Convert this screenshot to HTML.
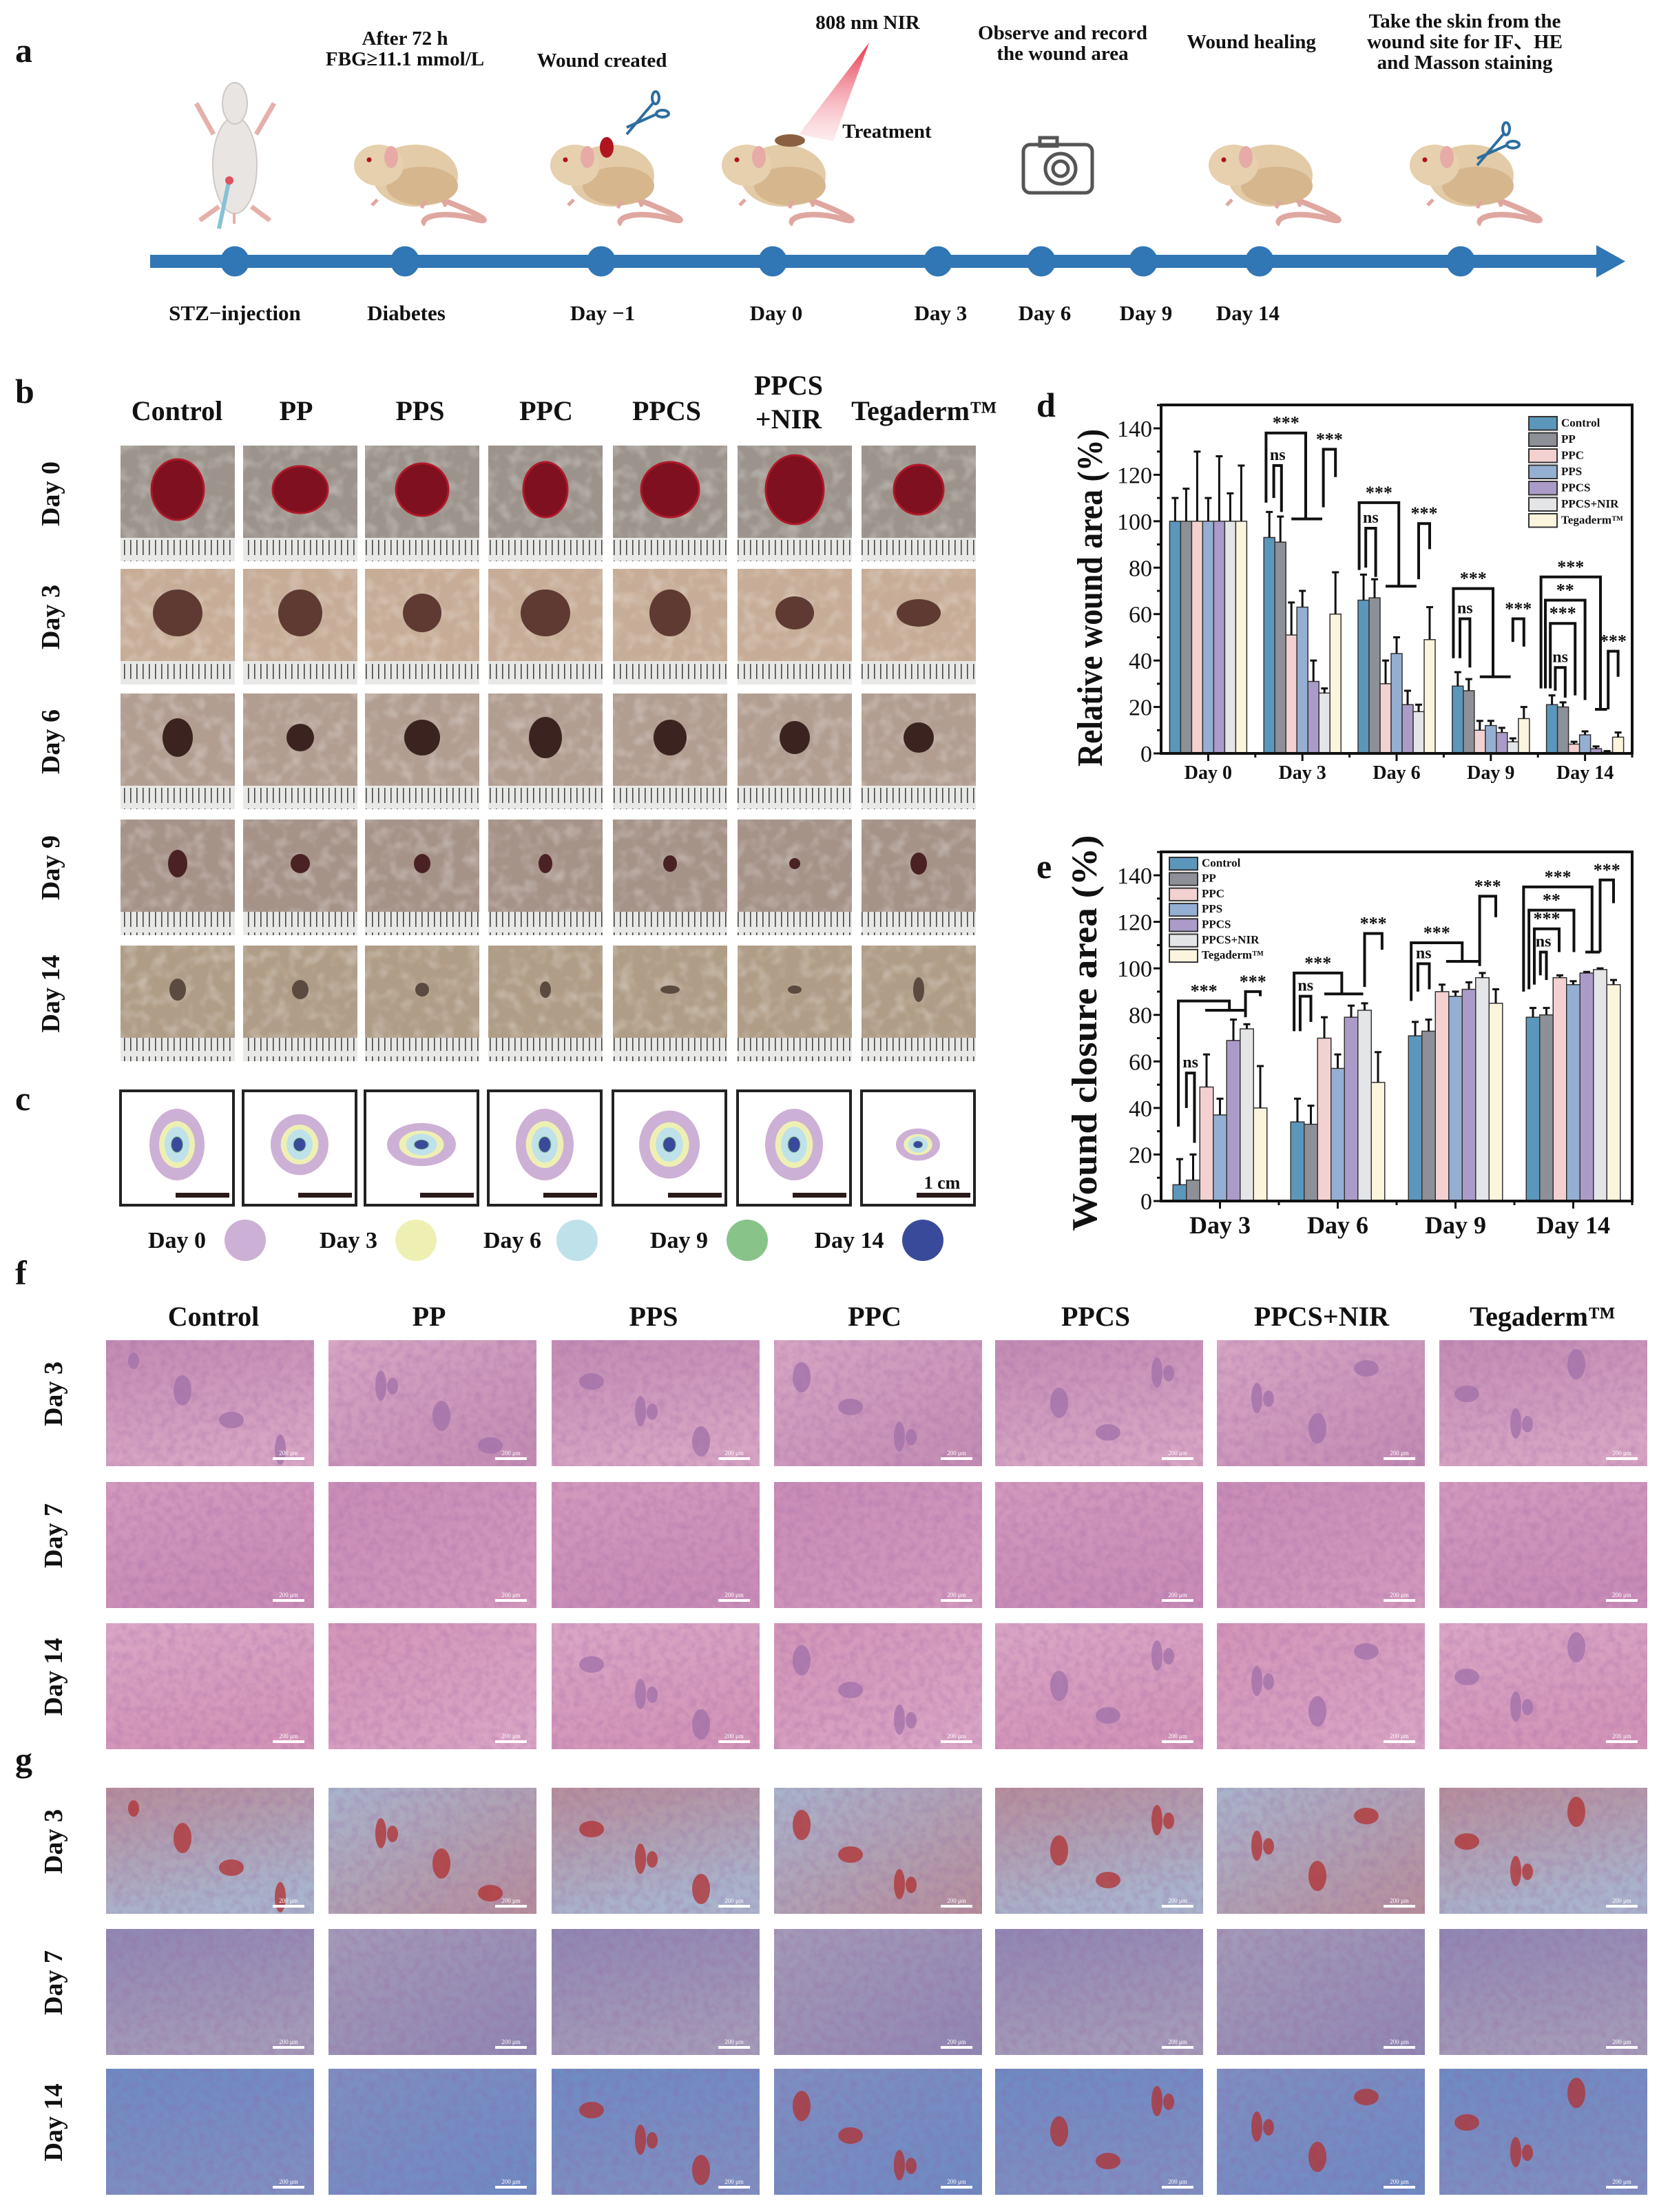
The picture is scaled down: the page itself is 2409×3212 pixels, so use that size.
<!DOCTYPE html>
<html><head><meta charset="utf-8">
<style>
html,body{margin:0;padding:0;background:#fff}
svg{display:block}
text{font-family:"Liberation Serif",serif}
</style></head>
<body>
<svg id="fig" xmlns="http://www.w3.org/2000/svg" width="2409" height="3212" viewBox="0 0 2409 3212">
<defs>
<pattern id="ruler" width="9" height="30" patternUnits="userSpaceOnUse"><rect width="9" height="30" fill="#e8e8e6"/><rect x="0" y="4" width="1.6" height="22" fill="#444"/></pattern>
<linearGradient id="beam" x1="0" y1="0" x2="0" y2="1"><stop offset="0" stop-color="#e8324a"/><stop offset="1" stop-color="#f7c2c8" stop-opacity="0.3"/></linearGradient>
<filter id="noise" x="0" y="0" width="100%" height="100%"><feTurbulence type="fractalNoise" baseFrequency="0.09" numOctaves="2" seed="3"/><feColorMatrix type="matrix" values="0 0 0 0 0.3  0 0 0 0 0.1  0 0 0 0 0.35  0 0 0 -1.4 0.9"/></filter>
<filter id="noise2" x="0" y="0" width="100%" height="100%"><feTurbulence type="fractalNoise" baseFrequency="0.05" numOctaves="2" seed="8"/><feColorMatrix type="matrix" values="0 0 0 0 0.95  0 0 0 0 0.95  0 0 0 0 0.97  0 0 0 -2 1.1"/></filter>
</defs>
</svg>
<script>
const NS='http://www.w3.org/2000/svg';
const svg=document.getElementById('fig');
function mk(tag,attrs,parent){const e=document.createElementNS(NS,tag);for(const k in attrs)e.setAttribute(k,attrs[k]);(parent||svg).appendChild(e);return e;}
function txt(str,x,y,size,opts,parent){const o=opts||{};const e=mk('text',{x:x,y:y,'font-size':size,'font-weight':o.w||'bold','text-anchor':o.a||'middle',fill:o.f||'#111'},parent);if(o.t)e.setAttribute('transform',o.t);if(o.len){e.setAttribute('textLength',o.len);e.setAttribute('lengthAdjust','spacingAndGlyphs');}e.textContent=str;return e;}

/* ---------------- panel labels ---------------- */
const panelLetters=['a','b','c','d','e','f','g'];
const panelPos=[[22,90],[22,585],[22,1612],[1505,605],[1505,1275],[22,1865],[22,2572]];
panelLetters.forEach((l,i)=>{const t=txt(l,panelPos[i][0],panelPos[i][1],50,{a:'start'});

});

/* ---------------- panel a: timeline ---------------- */
const gA=mk('g',{});


const bar=mk('rect',{x:218,y:370,width:2110,height:19,fill:'#3176b5'},gA);


mk('polygon',{points:'2318,356 2360,379.5 2318,403',fill:'#3176b5'},gA);
const tlX=[341,588,873,1122,1362,1512,1660,1829,2121];
tlX.forEach((x,i)=>{const d=mk('ellipse',{cx:x,cy:379.5,rx:21,ry:22,fill:'#3176b5'},gA);

});
const tlLabels=[['STZ−injection',341],['Diabetes',590],['Day −1',875],['Day 0',1127],['Day 3',1366],['Day 6',1517],['Day 9',1664],['Day 14',1812]];
tlLabels.forEach(l=>{const t=txt(l[0],l[1],465,31,{},gA);

});
const topLabels=[['After 72 h',588,65],['FBG≥11.1 mmol/L',588,95],['Wound created',874,97],['808 nm NIR',1260,42],['Treatment',1288,200],['Observe and record',1543,57],['the wound area',1543,87],['Wound healing',1817,70],['Take the skin from the',2127,40],['wound site for IF、HE',2127,70],['and Masson staining',2127,100]];
topLabels.forEach(l=>{const t=txt(l[0],l[1],l[2],29,{},gA);

});
const sm=mk('g',{},gA);


mk('ellipse',{cx:341,cy:240,rx:32,ry:70,fill:'#e9e5e3',stroke:'#cfc8c4','stroke-width':2},sm);
mk('ellipse',{cx:341,cy:150,rx:18,ry:30,fill:'#e9e5e3',stroke:'#cfc8c4','stroke-width':2},sm);
mk('path',{d:'M310 195 L285 150 M372 195 L398 150 M318 300 L290 320 M365 300 L392 320',stroke:'#e6b0aa','stroke-width':7,fill:'none'},sm);
mk('line',{x1:340,y1:310,x2:340,y2:325,stroke:'#e6b0aa','stroke-width':4},sm);
mk('line',{x1:318,y1:332,x2:332,y2:265,stroke:'#86c2d6','stroke-width':6},sm);
mk('circle',{cx:333,cy:262,r:6,fill:'#e05060'},sm);
function mouse(cx,name,extra){const g=mk('g',{},gA);


mk('path',{d:`M${cx+40} 285 C ${cx+110} 310, ${cx+140} 330, ${cx+90} 315 C ${cx+40} 305, ${cx+20} 320, ${cx+30} 325`,stroke:'#e0a6a0','stroke-width':8,fill:'none'},g);
mk('ellipse',{cx:cx+15,cy:255,rx:62,ry:45,fill:'#e3cba7'},g);
mk('ellipse',{cx:cx+25,cy:270,rx:52,ry:28,fill:'#d6b68d'},g);
mk('ellipse',{cx:cx-38,cy:240,rx:36,ry:30,fill:'#e6d0ad'},g);
mk('ellipse',{cx:cx-20,cy:228,rx:10,ry:16,fill:'#e8aaa6'},g);
mk('circle',{cx:cx-52,cy:232,r:3.5,fill:'#b01020'},g);
mk('path',{d:`M${cx-40} 290 l-8 8 M${cx+30} 292 l-6 10 M${cx+55} 290 l4 10`,stroke:'#e0a6a0','stroke-width':5},g);
if(extra==='wound'){mk('ellipse',{cx:cx+8,cy:214,rx:10,ry:15,fill:'#b0151f'},g);}
if(extra==='patch'){mk('ellipse',{cx:cx+25,cy:204,rx:22,ry:9,fill:'#8a6040'},g);}
return g;}
mouse(588,'diabetic-mouse');
mouse(873,'wounded-mouse','wound');
mouse(1122,'treated-mouse','patch');
mouse(1829,'healing-mouse');
mouse(2121,'sampled-mouse');
[[930,160],[2165,205]].forEach((p,i)=>{const s=mk('g',{stroke:'#2e6e9e','stroke-width':4,fill:'none'},gA);


mk('line',{x1:p[0]-20,y1:p[1]+35,x2:p[0]+18,y2:p[1]-10},s);
mk('line',{x1:p[0]-20,y1:p[1]+25,x2:p[0]+25,y2:p[1]+5},s);
mk('ellipse',{cx:p[0]+22,cy:p[1]-18,rx:5,ry:9},s);
mk('ellipse',{cx:p[0]+32,cy:p[1]+5,rx:9,ry:5},s);});
const beam=mk('polygon',{points:'1262,62 1160,195 1210,205',fill:'url(#beam)'},gA);


const cam=mk('g',{fill:'none',stroke:'#555','stroke-width':5},gA);


mk('rect',{x:1486,y:210,width:100,height:70,rx:10},cam);
mk('rect',{x:1510,y:200,width:25,height:12},cam);
mk('circle',{cx:1540,cy:245,r:22},cam);
mk('circle',{cx:1540,cy:245,r:11},cam);

/* ---------------- panel b: photo grid ---------------- */
const colX=[175,353,530,709,890,1071,1251];
const rowBY=[647,826,1007,1190,1373];
const rowBLabels=['Day 0','Day 3','Day 6','Day 9','Day 14'];
const skinCol=['#9c948c','#c7ad97','#b29e91','#a69388','#b09d87'];
const woundCol=['#7e1020','#5e3a33','#3b2420','#4a2224','#5a4a40'];
const woundRx=[[38,40,38,32,42,42,36],[36,32,28,36,30,28,32],[22,20,26,24,24,22,22],[14,14,12,10,10,8,12],[12,12,10,8,14,10,8]];
const woundRy=[[44,34,38,40,40,50,36],[34,34,28,34,34,24,20],[28,20,26,30,26,24,22],[20,14,14,14,12,8,16],[16,14,10,12,6,6,18]];
const gB=mk('g',{});


const headB=[['Control',257,610],['PP',430,610],['PPS',610,610],['PPC',793,610],['PPCS',968,610],['PPCS',1145,573],['+NIR',1145,622],['Tegaderm™',1342,610]];
headB.forEach(h=>{const t=txt(h[0],h[1],h[2],40,{},gB);

});
rowBY.forEach((y,r)=>{const t=txt(rowBLabels[r],100,y+84,38,{t:`rotate(-90 86 ${y+84})`},gB);


colX.forEach((x,c)=>{const g=mk('g',{},gB);


mk('rect',{x:x,y:y,width:166,height:168,fill:skinCol[r]},g);
mk('rect',{x:x,y:y,width:166,height:138,filter:'url(#noise2)',opacity:0.35},g);
mk('ellipse',{cx:x+83,cy:y+64,rx:woundRx[r][c],ry:woundRy[r][c],fill:woundCol[r],stroke:r===0?'#b01828':'none','stroke-width':3},g);
mk('rect',{x:x,y:y+134,width:166,height:34,fill:'url(#ruler)'},g);});});

/* ---------------- panel c: contours ---------------- */
const gC=mk('g',{});


const contourCol=['#cdb0d5','#eef0b3','#bfe1ea','#88c38a','#3a4a9a'];
const contourScale=[[40,52],[26,34],[18,26],[9,12],[8,11]];
const contourSX=[1,1.05,1.25,1.05,1.1,1.05,0.8];
const contourSY=[1,0.85,0.6,1,0.95,1,0.45];
colX.forEach((x,c)=>{const g=mk('g',{},gC);


mk('rect',{x:x,y:1584,width:164,height:166,fill:'#fff',stroke:'#222','stroke-width':4},g);
contourScale.forEach((s,k)=>{mk('ellipse',{cx:x+82,cy:1662,rx:s[0]*contourSX[c],ry:s[1]*contourSY[c],fill:contourCol[k]},g);});
mk('rect',{x:x+80,y:1732,width:78,height:7,fill:'#2a1a1a'},g);});
txt('1 cm',1368,1726,26,{},gC);
const legC=[['Day 0',257,356],['Day 3',506,604],['Day 6',744,838],['Day 9',986,1085],['Day 14',1233,1340]];
legC.forEach((l,k)=>{const t=txt(l[0],l[1],1812,34,{},gC);


const c=mk('circle',{cx:l[2],cy:1801,r:30,fill:contourCol[k]},gC);

});

/* ---------------- panels f & g: histology ---------------- */
const histX=[154,477,801,1124,1445,1767,2090];
const rowF=[1946,2152,2357];
const rowG=[2596,2801,3004];
const histRowLabels=['Day 3','Day 7','Day 14'];
const heCols=[['#c38cb3','#d8a6c4'],['#d49abd','#c98db7'],['#dba7c6','#d395b8']];
const mtCols=[['#b68e9a','#a9b4cc'],['#9087b3','#a39bb8'],['#6d8bc3','#7e8fc2']];
const headF=[['Control',310],['PP',623],['PPS',949],['PPC',1270],['PPCS',1591],['PPCS+NIR',1919],['Tegaderm™',2240]];
const gF=mk('g',{});


headF.forEach(h=>{const t=txt(h[0],h[1],1925,40,{},gF);

});
function tiles(rows,cols,parent,name,blobCol){rows.forEach((y,r)=>{const lab=txt(histRowLabels[r],104,y+92,38,{t:`rotate(-90 90 ${y+92})`},parent);


histX.forEach((x,c)=>{const id=name+r+'-'+c;const lg=mk('linearGradient',{id:id,x1:0,y1:0,x2:(c%2?1:0.3),y2:1},svg.querySelector('defs'));
mk('stop',{offset:0,'stop-color':cols[r][c%2]},lg);mk('stop',{offset:1,'stop-color':cols[r][(c+1)%2]},lg);
const g=mk('g',{},parent);


mk('rect',{x:x,y:y,width:302,height:183,fill:`url(#${id})`},g);
mk('rect',{x:x,y:y,width:302,height:183,filter:'url(#noise)',opacity:0.35},g);
if((r===0)||(r===2&&c>=2)){for(let k=0;k<4;k++){mk('ellipse',{cx:x+40+((c*53+k*71)%230),cy:y+30+((c*37+k*43)%130),rx:8+(k%3)*5,ry:12+(k%2)*10,fill:blobCol,opacity:0.75},g);}}
mk('rect',{x:x+242,y:y+170,width:46,height:4,fill:'#fff'},g);
txt('200 μm',x+265,y+167,9,{f:'#fff',w:'normal'},g);});});}
tiles(rowF,heCols,gF,'he','#a070a8');
const gG=mk('g',{});


tiles(rowG,mtCols,gG,'masson','#b03030');

/* ---------------- charts d & e ---------------- */
const seriesNames=['Control','PP','PPC','PPS','PPCS','PPCS+NIR','Tegaderm™'];
const seriesColors=['#5b96bb','#8e9098','#f3d1d1','#95afd3','#ab9bc9','#e4e5e7','#fcf5dd'];
const yTicks=[0,20,40,60,80,100,120,140];
const dCategories=['Day 0','Day 3','Day 6','Day 9','Day 14'];
const dControl=[100,93,66,29,21];
const dPP=[100,91,67,27,20];
const dPPC=[100,51,30,10,4];
const dPPS=[100,63,43,12,8];
const dPPCS=[100,31,21,9,2];
const dNIR=[100,26,18,5,0.5];
const dTeg=[100,60,49,15,7];
const dErrControl=[10,11,11,6,4];
const dErrPP=[14,11,8,5,2];
const dErrPPC=[30,14,10,4,1];
const dErrPPS=[10,7,7,2,1.5];
const dErrPPCS=[28,9,6,2,1];
const dErrNIR=[12,2,3,1.5,0.5];
const dErrTeg=[24,18,14,5,2];
const eCategories=['Day 3','Day 6','Day 9','Day 14'];
const eControl=[7,34,71,79];
const ePP=[9,33,73,80];
const ePPC=[49,70,90,96];
const ePPS=[37,57,88,93];
const ePPCS=[69,79,91,98];
const eNIR=[74,82,96,99.5];
const eTeg=[40,51,85,93];
const eErrControl=[11,10,6,4];
const eErrPP=[11,8,5,3];
const eErrPPC=[14,9,3,1];
const eErrPPS=[7,6,2,1.5];
const eErrPPCS=[9,5,3,0.5];
const eErrNIR=[2,3,2,0.5];
const eErrTeg=[18,13,6,2];
const dBrackets=[[1,-0.3,3.3,138,108,101,'***'],[1,0.4,1.1,124,110,104,'ns'],[1,4.9,6,131,106,119,'***'],
[2,-0.4,3.2,108,79,72,'***'],[2,0.2,1.1,97,80,76,'ns'],[2,5,6,99,75,88,'***'],
[3,-0.4,3.2,71,41,33,'***'],[3,0.2,1.1,58,41,37,'ns'],[3,5,6,58,48,46,'***'],
[4,-1,4.4,76,28,19,'***'],[4,-0.6,3,66,28,23,'**'],[4,-0.15,2.1,56,28,25,'***'],[4,0.3,1.2,37,27,24,'ns'],[4,5.1,6,44,19,33,'***']];
const dBridges=[[1,2,4.8,101],[2,2,4.8,72],[3,2,4.8,33],[4,3.9,5,19]];
const eBrackets=[[0,-0.1,3.7,86,32,82,'***'],[0,0.5,1.1,55,40,25,'ns'],[0,4.9,6,90,79,88,'***'],
[1,-0.25,3.3,98,73,89,'***'],[1,0.2,1,88,73,77,'ns'],[1,5,6.3,115,92,108,'***'],
[2,-0.3,3.5,111,86,103,'***'],[2,0.2,1.05,102,90,91,'ns'],[2,4.8,6,131,101,122,'***'],
[3,-0.7,4.4,135,90,107,'***'],[3,-0.3,3.05,125,91,107,'**'],[3,0.1,1.95,117,93,107,'***'],[3,0.55,1,107,97,95,'ns'],[3,5,6,138,107,128,'***']];
const eBridges=[[0,1.9,4.8,82],[1,2,4.9,89],[2,2.3,4.8,103],[3,3.9,5,107]];

function chart(cfg){
const g=mk('g',{});


const L=1686,R=2370,T=cfg.top,B=cfg.y0,Ytop=cfg.y140;
const n=cfg.cats.length,band=(R-L)/n,bw=cfg.bw;
const xc=i=>L+band*(i+0.5);
const y=v=>B-v*(B-Ytop)/140;
const bx=(i,p)=>xc(i)+(p-3)*bw;
cfg.series.forEach((vals,j)=>{vals.forEach((v,i)=>{
const r=mk('rect',{x:bx(i,j)-bw/2,y:y(v),width:bw,height:B-y(v),fill:seriesColors[j],stroke:'#333','stroke-width':1.5},g);


const e=cfg.errs[j][i];
const el=mk('path',{d:`M${bx(i,j)} ${y(v)} V${y(v+e)} M${bx(i,j)-5} ${y(v+e)} H${bx(i,j)+5}`,stroke:'#111','stroke-width':3,fill:'none'},g);

});});
cfg.brackets.forEach(b=>{const x1=bx(b[0],b[1]),x2=bx(b[0],b[2]);
const p=mk('path',{d:`M${x1} ${y(b[4])} V${y(b[3])} H${x2} V${y(b[5])}`,stroke:'#111','stroke-width':4,fill:'none'},g);


const t=txt(b[6],(x1+x2)/2,y(b[3])-(b[6]==='ns'?8:6),b[6]==='ns'?24:26,{},g);

});
cfg.bridges.forEach(b=>{const p=mk('path',{d:`M${bx(b[0],b[1])} ${y(b[3])} H${bx(b[0],b[2])}`,stroke:'#111','stroke-width':4},g);

});
const fr=mk('rect',{x:L,y:T,width:R-L,height:B-T,fill:'none',stroke:'#111','stroke-width':4},g);


yTicks.forEach(v=>{mk('line',{x1:L-11,x2:L,y1:y(v),y2:y(v),stroke:'#111','stroke-width':3},g);
mk('line',{x1:L-6,x2:L,y1:y(v+10),y2:y(v+10),stroke:'#111','stroke-width':3},g);
const t=txt(String(v),L-13,y(v)+12,34,{a:'end',w:'normal'},g);

});
cfg.cats.forEach((c,i)=>{mk('line',{x1:xc(i),x2:xc(i),y1:B,y2:B+11,stroke:'#111','stroke-width':3},g);
mk('line',{x1:L+band*(i+1),x2:L+band*(i+1),y1:B,y2:B+6,stroke:'#111','stroke-width':3},g);
const t=txt(c,xc(i),cfg.xlabY,cfg.xfs,{},g);

});
const yt=txt(cfg.ytitle,cfg.ytx,cfg.yty,52,{t:`rotate(-90 ${cfg.ytx} ${cfg.yty})`,len:cfg.ylen},g);


seriesNames.forEach((s,j)=>{const ly=cfg.legY+j*cfg.legStep;
const r=mk('rect',{x:cfg.legX,y:ly,width:41,height:cfg.legStep-4,fill:seriesColors[j],stroke:'#333','stroke-width':2},g);


const t=txt(s,cfg.legX+47,ly+cfg.legStep-9,17,{a:'start'},g);

});
}
chart({name:'relative-wound-area-chart',cats:dCategories,series:[dControl,dPP,dPPC,dPPS,dPPCS,dNIR,dTeg],errs:[dErrControl,dErrPP,dErrPPC,dErrPPS,dErrPPCS,dErrNIR,dErrTeg],
brackets:dBrackets,bridges:dBridges,top:588,y0:1094,y140:622,bw:16,xlabY:1131,xfs:28,ytitle:'Relative wound area (%)',ytx:1600,yty:868,ylen:490,legX:2220,legY:605,legStep:23.5});
chart({name:'wound-closure-area-chart',cats:eCategories,series:[eControl,ePP,ePPC,ePPS,ePPCS,eNIR,eTeg],errs:[eErrControl,eErrPP,eErrPPC,eErrPPS,eErrPPCS,eErrNIR,eErrTeg],
brackets:eBrackets,bridges:eBridges,top:1237,y0:1744,y140:1271,bw:19.5,xlabY:1791,xfs:36,ytitle:'Wound closure area (%)',ytx:1592,yty:1500,ylen:575,legX:1698,legY:1245,legStep:22.3});
</script>
</body></html>
